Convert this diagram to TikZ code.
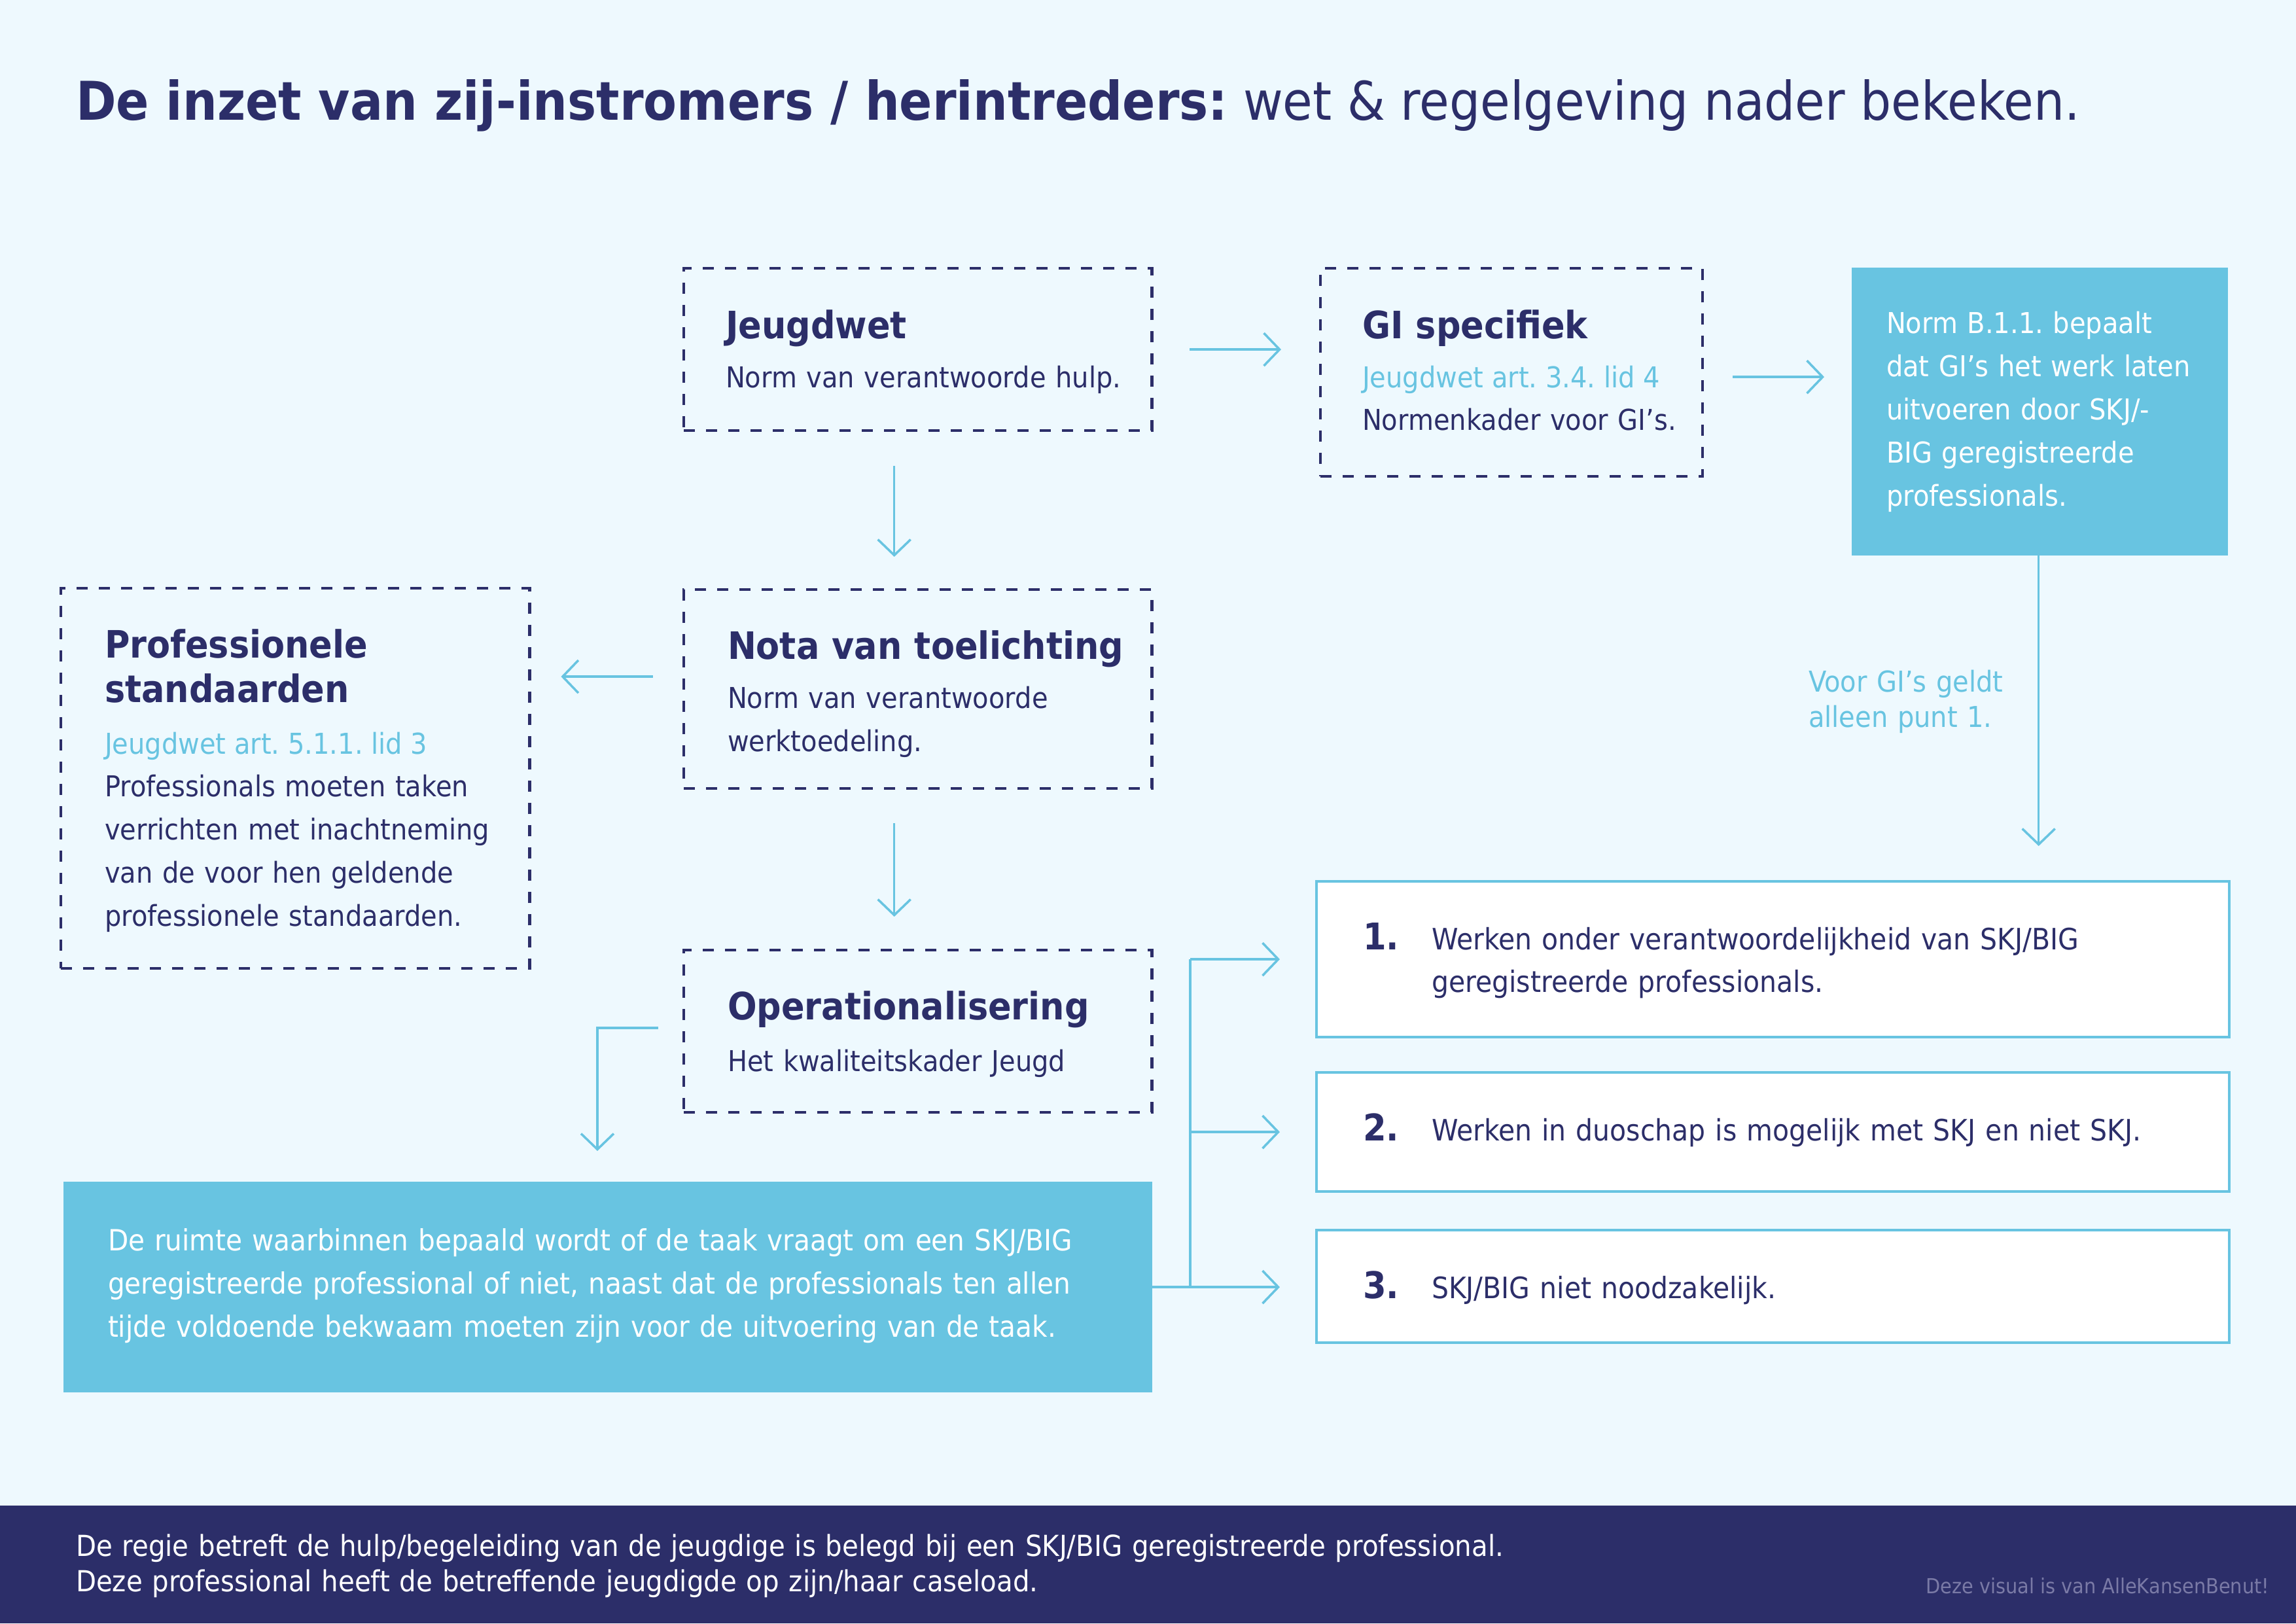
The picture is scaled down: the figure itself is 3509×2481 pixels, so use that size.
\documentclass[tikz,border=0pt]{standalone}
\usepackage{fontspec}
\setmainfont{DejaVu Sans}[FakeStretch=0.91]
\usetikzlibrary{arrows.meta,positioning,calc}
\definecolor{navy}{HTML}{2C2E69}
\definecolor{skyblue}{HTML}{68C4E1}
\definecolor{bgpale}{HTML}{EEF9FE}
\definecolor{creditgrey}{HTML}{7A7AA6}
\newcommand{\bodysize}{\fontsize{12.5}{18.8}\selectfont}
\newcommand{\headsize}{\fontsize{16.4}{19.6}\selectfont}
\frenchspacing

\begin{document}
\begin{tikzpicture}[x=0.01cm, y=-0.01cm,
  every node/.style={inner sep=0pt, outer sep=0pt},
  dashbox/.style={draw=navy, line width=1.2pt, dash pattern=on 0.17cm off 0.17cm, anchor=north west, minimum width=7.15cm},
  fillbox/.style={fill=skyblue, anchor=north west},
  listbox/.style={draw=skyblue, fill=white, line width=1.2pt, anchor=north west, minimum width=13.94cm},
  head/.style={anchor=base west, text=navy, font=\headsize\bfseries, text width=7.5cm, align=left},
  body/.style={anchor=base west, text=navy, font=\bodysize, text width=8cm, align=left},
  ref/.style={anchor=base west, text=skyblue, font=\bodysize},
  num/.style={anchor=base west, text=navy, font=\fontsize{16}{19}\selectfont\bfseries},
  itemtext/.style={body, text width=12cm, font=\fontsize{12.8}{18.6}\selectfont},
  arr/.style={draw=skyblue, line width=1pt, -{Straight Barb[length=0.24cm, width=0.5cm]}},
]
  % background and frame
  \useasboundingbox (0,0) rectangle (3509,2481);
  \fill[bgpale] (0,0) rectangle (3509,2481);
  \node[anchor=base west, text=navy, font=\fontsize{23.2}{28}\selectfont] (title) at (116,183)
    {\textbf{De inzet van zij-instromers / herintreders:} wet \& regelgeving nader bekeken.};

  % law boxes
  \node[dashbox, minimum height=2.48cm] (jeugdwet) at (1045,410) {};
  \node[head] (jeugdwethead) at (1109,517) {Jeugdwet};
  \node[body] (jeugdwettext) at (1109,592) {Norm van verantwoorde hulp.};

  \node[dashbox, minimum width=5.84cm, minimum height=3.18cm] (gi) at (2018,410) {};
  \node[head] (gihead) at (2082,517) {GI specifiek};
  \node[ref] (giref) at (2082,592) {Jeugdwet art. 3.4. lid 4};
  \node[body] (gitext) at (2082,657) {Normenkader voor GI’s.};

  \node[fillbox, minimum width=5.75cm, minimum height=4.40cm] (norm) at (2830,409) {};
  \node[body, text=white] (normtext) at (2883,509)
    {Norm B.1.1. bepaalt\\dat GI’s het werk laten\\uitvoeren door SKJ/-\\BIG geregistreerde\\professionals.};

  \node[dashbox, minimum height=3.04cm] (nota) at (1045,901) {};
  \node[head] (notahead) at (1112,1007) {Nota van toelichting};
  \node[body] (notatext) at (1112,1082) {Norm van verantwoorde\\werktoedeling.};

  \node[dashbox, minimum width=7.16cm, minimum height=5.81cm] (prof) at (93,899) {};
  \node[head] (profhead) at (160,1005) {Professionele\\standaarden};
  \node[ref] (profref) at (160,1152) {Jeugdwet art. 5.1.1. lid 3};
  \node[body] (proftext) at (160,1217)
    {Professionals moeten taken\\verrichten met inachtneming\\van de voor hen geldende\\professionele standaarden.};

  \node[dashbox, minimum height=2.48cm] (oper) at (1045,1452) {};
  \node[head] (operhead) at (1112,1558) {Operationalisering};
  \node[body] (opertext) at (1112,1637) {Het kwaliteitskader Jeugd};

  \node[fillbox, minimum width=16.63cm, minimum height=3.22cm] (ruimte) at (97,1806) {};
  \node[body, text=white, text width=16cm, font=\fontsize{12.7}{18.8}\selectfont] (ruimtetext) at (165,1911)
    {De ruimte waarbinnen bepaald wordt of de taak vraagt om een SKJ/BIG\\geregistreerde professional of niet, naast dat de professionals ten allen\\tijde voldoende bekwaam moeten zijn voor de uitvoering van de taak.};

  % the three options
  \node[listbox, minimum height=2.38cm] (item1) at (2012,1347) {};
  \node[listbox, minimum height=1.82cm] (item2) at (2012,1639) {};
  \node[listbox, minimum height=1.72cm] (item3) at (2012,1880) {};
  \node[num] (num1) at (2083,1451) {1.};
  \node[num] (num2) at (2083,1743) {2.};
  \node[num] (num3) at (2083,1984) {3.};
  \node[itemtext] (item1text) at (2188,1451)
    {Werken onder verantwoordelijkheid van SKJ/BIG\\geregistreerde professionals.};
  \node[itemtext] (item2text) at (2188,1743)
    {Werken in duoschap is mogelijk met SKJ en niet SKJ.};
  \node[itemtext] (item3text) at (2188,1984)
    {SKJ/BIG niet noodzakelijk.};

  \node[ref, text width=4cm, align=left, font=\fontsize{12.5}{15.6}\selectfont] (voorgi) at (2764,1057)
    {Voor GI’s geldt\\alleen punt 1.};

  % arrows
  \draw[arr, shorten <=0.58cm, shorten >=0.60cm] (jeugdwet.east) -- (jeugdwet.east -| gi.west);
  \draw[arr, shorten <=0.46cm, shorten >=0.42cm] ([yshift=-0.07cm]gi.east) -- ([yshift=-0.07cm]gi.east -| norm.west);
  \draw[arr, shorten <=0.54cm, shorten >=0.50cm] ([xshift=-0.36cm]jeugdwet.south) -- ([xshift=-0.36cm]nota.north);
  \draw[arr, shorten <=0.47cm, shorten >=0.48cm] ([yshift=0.19cm]nota.west) -- ([yshift=0.19cm]nota.west -| prof.east);
  \draw[arr, shorten <=0.53cm, shorten >=0.51cm] ([xshift=-0.36cm]nota.south) -- ([xshift=-0.36cm]oper.north);
  \draw[arr, shorten <=0.39cm, shorten >=0.47cm] ([yshift=0.05cm]oper.west) -| ([xshift=-0.16cm]ruimte.north);
  \draw[arr, shorten >=0.54cm] ([xshift=-0.02cm]norm.south) -- ([xshift=-0.02cm]norm.south |- item1.north);

  % fork to the three options
  \coordinate (fork) at ([xshift=-1.93cm]item3.west);
  \draw[skyblue, line width=1pt] (fork |- item1.west) -- (fork |- ruimte.east);
  \draw[skyblue, line width=1pt] (ruimte.east) -- (fork |- ruimte.east);
  \draw[arr, shorten >=0.56cm] (fork |- item1.west) -- (item1.west);
  \draw[arr, shorten >=0.56cm] (fork |- item2.west) -- (item2.west);
  \draw[arr, shorten >=0.56cm] (fork |- ruimte.east) -- (ruimte.east -| item3.west);

  % footer
  \fill[navy] (0,2301) rectangle (3509,2481);
  \node[anchor=base west, text=white, font=\fontsize{12.6}{15.6}\selectfont, text width=32cm, align=left] (footer) at (116,2378)
    {De regie betreft de hulp/begeleiding van de jeugdige is belegd bij een SKJ/BIG geregistreerde professional.\\Deze professional heeft de betreffende jeugdigde op zijn/haar caseload.};
  \node[anchor=base east, text=creditgrey, font=\fontsize{9}{10}\selectfont] (credit) at (3468,2435)
    {Deze visual is van AlleKansenBenut!};
\end{tikzpicture}
\end{document}
